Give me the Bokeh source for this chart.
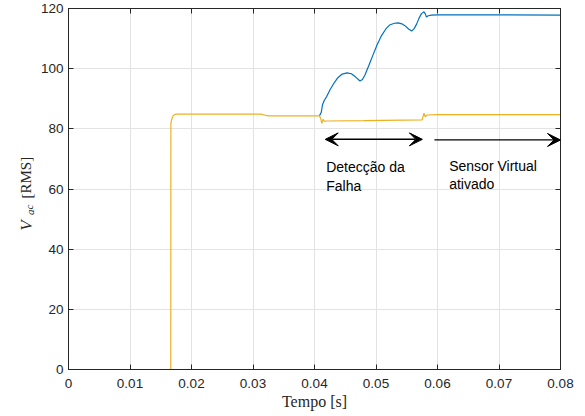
from bokeh.plotting import figure
from bokeh.layouts import row
from bokeh.models import Range1d, FixedTicker, LinearAxis, Label, Arrow, VeeHead
from bokeh.embed import file_html
from bokeh.resources import INLINE

# RMS output voltage after the fault: virtual-sensor estimate (blue)
blue_t = [0.0408, 0.0411, 0.0413, 0.0416, 0.0420, 0.0425, 0.0432, 0.0438, 0.0445, 0.0453,
          0.0460, 0.0467, 0.0474, 0.0478, 0.0482, 0.0488, 0.0495, 0.0502, 0.0509, 0.0516,
          0.0522, 0.0530, 0.0536, 0.0542, 0.0547, 0.0553, 0.0558, 0.0562, 0.0566, 0.0570,
          0.0574, 0.0578, 0.0580, 0.0582, 0.0585, 0.0590, 0.0600, 0.0700, 0.0800]
blue_v = [84.3, 85.5, 88.0, 89.5, 90.8, 92.9, 95.3, 97.0, 98.2, 98.6,
          98.3, 97.2, 95.9, 96.4, 97.9, 100.9, 104.5, 108.0, 111.0, 113.2,
          114.5, 115.1, 115.2, 114.9, 114.3, 113.2, 112.5, 113.3, 114.8, 116.8,
          118.3, 118.9, 118.3, 117.2, 117.6, 117.8, 117.9, 117.9, 117.8]

# measured RMS voltage (orange)
orange_t = [0.0, 0.01663, 0.01665, 0.0168, 0.0170, 0.0173, 0.0176, 0.0313, 0.0320, 0.0327,
            0.0408, 0.0410, 0.0412, 0.0414, 0.0416, 0.0420, 0.0480, 0.0575, 0.0578, 0.0580,
            0.0583, 0.0600, 0.0800]
orange_v = [0.0, 0.0, 82.0, 83.3, 84.3, 84.8, 84.9, 84.9, 84.5, 84.3,
            84.3, 83.5, 81.8, 83.2, 82.5, 82.6, 82.7, 83.0, 85.2, 84.0,
            84.6, 84.7, 84.7]

x_ticks = [0.0, 0.01, 0.02, 0.03, 0.04, 0.05, 0.06, 0.07, 0.08]
x_tick_labels = ["0", "0.01", "0.02", "0.03", "0.04", "0.05", "0.06", "0.07", "0.08"]
y_ticks = [0, 20, 40, 60, 80, 100, 120]
y_tick_labels = ["0", "20", "40", "60", "80", "100", "120"]

AX = "#262626"
TICK_FONT = "Liberation Sans"
SERIF = "Liberation Serif"
H = 416
LAB_W = 37

# narrow strip holding the y-axis title V_ac [RMS] (pixel coordinates, origin at bottom)
lab = figure(width=LAB_W, height=H, output_backend="svg", toolbar_location=None,
             x_range=Range1d(0, LAB_W), y_range=Range1d(0, H),
             x_axis_type=None, y_axis_type=None, min_border=0,
             outline_line_color=None, background_fill_color="white",
             border_fill_color="white")
lab.grid.visible = False
ang = 1.5708
lab.add_layout(Label(x=26, y=160, text="V", angle=ang, text_font=SERIF,
                     text_font_style="italic", text_font_size="17px", text_color=AX,
                     text_baseline="alphabetic", text_align="left"))
lab.add_layout(Label(x=29, y=178, text="ac", angle=ang, text_font=SERIF,
                     text_font_style="italic", text_font_size="11px", text_color=AX,
                     text_baseline="alphabetic", text_align="left"))
lab.add_layout(Label(x=26, y=197, text="[RMS]", angle=ang, text_font=SERIF,
                     text_font_size="15px", text_color=AX,
                     text_baseline="alphabetic", text_align="left"))

p = figure(width=585 - LAB_W, height=H, output_backend="svg", toolbar_location=None,
           x_range=Range1d(0, 0.08), y_range=Range1d(0, 120),
           min_border_left=31, min_border_right=25, min_border_top=8, min_border_bottom=47,
           background_fill_color="white", border_fill_color="white")
p.outline_line_color = AX
p.outline_line_width = 1

p.xaxis.ticker = FixedTicker(ticks=x_ticks)
p.yaxis.ticker = FixedTicker(ticks=y_ticks)
p.xaxis.major_label_overrides = dict(zip(x_ticks, x_tick_labels))
p.yaxis.major_label_overrides = dict(zip(y_ticks, y_tick_labels))

for ax in (p.xaxis[0], p.yaxis[0]):
    ax.axis_line_color = AX
    ax.major_tick_line_color = AX
    ax.major_tick_in = 5
    ax.major_tick_out = 0
    ax.minor_tick_line_color = None
    ax.major_label_text_font = TICK_FONT
    ax.major_label_text_font_size = "13.5px"
    ax.major_label_text_color = AX

p.xaxis.major_label_standoff = 9
p.yaxis.major_label_standoff = 5
p.xaxis.axis_label = "Tempo [s]"
p.xaxis.axis_label_text_font = SERIF
p.xaxis.axis_label_text_font_size = "16px"
p.xaxis.axis_label_text_font_style = "normal"
p.xaxis.axis_label_text_color = AX
p.xaxis.axis_label_standoff = 2

# mirrored tick marks on the top and right edges
top = LinearAxis(ticker=FixedTicker(ticks=x_ticks),
                 major_label_overrides={t: "" for t in x_ticks})
right = LinearAxis(ticker=FixedTicker(ticks=y_ticks),
                   major_label_overrides={t: "" for t in y_ticks})
for ax in (top, right):
    ax.axis_line_color = AX
    ax.major_tick_line_color = AX
    ax.major_tick_in = 5
    ax.major_tick_out = 0
    ax.minor_tick_line_color = None
    ax.major_label_standoff = 0
    ax.major_label_text_font_size = "1px"
p.add_layout(top, "above")
p.add_layout(right, "right")

p.xgrid.grid_line_color = "#e3e3e3"
p.ygrid.grid_line_color = "#e3e3e3"

p.line(blue_t, blue_v, line_color="#0072BD", line_width=1.2)
p.line(orange_t, orange_v, line_color="#EDB120", line_width=1.2)

# annotation arrows
p.add_layout(Arrow(x_start=0.04175, y_start=76.5, x_end=0.05754, y_end=76.5,
                   line_color="black", line_width=1.5,
                   start=VeeHead(size=13, fill_color="black", line_color="black"),
                   end=VeeHead(size=13, fill_color="black", line_color="black")))
p.add_layout(Arrow(x_start=0.0595, y_start=76.3, x_end=0.0800, y_end=76.3,
                   line_color="black", line_width=1.2,
                   end=VeeHead(size=13, fill_color="black", line_color="black")))

for txt, x, y in [("Detecção da", 0.0419, 67.4), ("Falha", 0.0419, 61.1),
                  ("Sensor Virtual", 0.0619, 67.8), ("ativado", 0.0619, 61.7)]:
    p.add_layout(Label(x=x, y=y, text=txt, text_font="Liberation Sans",
                       text_font_size="14px", text_color="black",
                       text_baseline="alphabetic", text_align="left"))

layout = row(lab, p)
open("out.html", "w").write(file_html(layout, INLINE))
